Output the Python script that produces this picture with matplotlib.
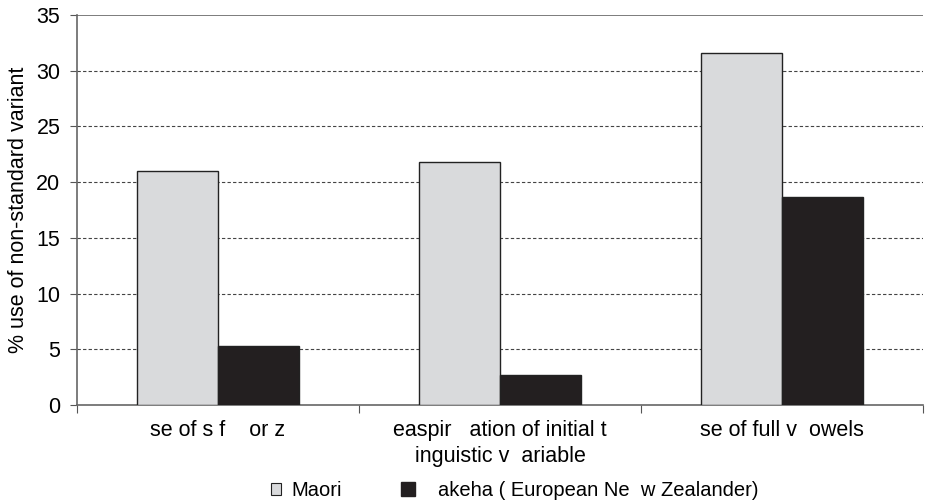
import numpy as np
import matplotlib.pyplot as plt
from matplotlib.patches import Patch

plt.rcParams['font.family'] = ['Liberation Sans', 'DejaVu Sans']

categories = ['se of s f    or z',
              'easpir   ation of initial t\ninguistic v  ariable',
              'se of full v  owels']
maori = [21.0, 21.8, 31.6]
pakeha = [5.3, 2.7, 18.7]
series_names = ['Maori', 'akeha ( European Ne  w Zealander)']
yticks = [0, 5, 10, 15, 20, 25, 30, 35]

light = '#d9dadc'
dark = '#231f20'


def main():
    fig = plt.figure(figsize=(9.25, 5.01), dpi=100)
    ax = fig.add_axes([0.0832, 0.1916, 0.9148, 0.7784])

    x = np.arange(len(categories))
    w = 0.286
    ax.bar(x - w / 2, maori, w, color=light, edgecolor='#222222', linewidth=1.0, zorder=3)
    ax.bar(x + w / 2, pakeha, w, color=dark, edgecolor='#222222', linewidth=1.0, zorder=3)

    ax.set_xlim(-0.5, len(categories) - 0.5)
    ax.set_ylim(0, 35)
    ax.set_yticks(yticks)
    for v in yticks[1:-1]:
        ax.axhline(v, color='#444444', linestyle=(0, (3, 2)), linewidth=0.8, zorder=1)
    ax.axhline(35, color='#666666', linewidth=1.2, zorder=1)

    # category boundaries as major ticks, labels on minor ticks
    ax.set_xticks(np.arange(len(categories) + 1) - 0.5)
    ax.set_xticklabels([])
    ax.set_xticks(x, minor=True)
    ax.set_xticklabels(categories, minor=True, fontsize=15.5, linespacing=1.3)
    ax.tick_params(axis='x', which='minor', length=0, pad=11)
    ax.tick_params(axis='x', which='major', length=6, color='#555555')
    ax.tick_params(axis='y', length=5, color='#555555', labelsize=15.5, pad=7)

    for s in ['top', 'right']:
        ax.spines[s].set_visible(False)
    for s in ['left', 'bottom']:
        ax.spines[s].set_color('#666666')
        ax.spines[s].set_linewidth(1.2)

    ax.set_ylabel('% use of non-standard variant', fontsize=15.5, labelpad=5)

    # two separate legend entries, as in the original the squares differ in size
    h1 = Patch(facecolor=light, edgecolor='#222222', linewidth=0.8)
    h2 = Patch(facecolor=dark, edgecolor=dark)
    fig.legend([h1], series_names[:1], loc='center left', bbox_to_anchor=(0.293, 0.021),
               frameon=False, fontsize=14.5, handlelength=0.5, handleheight=0.5,
               handletextpad=0.5, borderpad=0, borderaxespad=0)
    fig.legend([h2], series_names[1:], loc='center left', bbox_to_anchor=(0.4335, 0.021),
               frameon=False, fontsize=14.5, handlelength=0.72, handleheight=0.72,
               handletextpad=1.1, borderpad=0, borderaxespad=0)

    fig.savefig('out.png', dpi=100)


if __name__ == "__main__":
    main()
